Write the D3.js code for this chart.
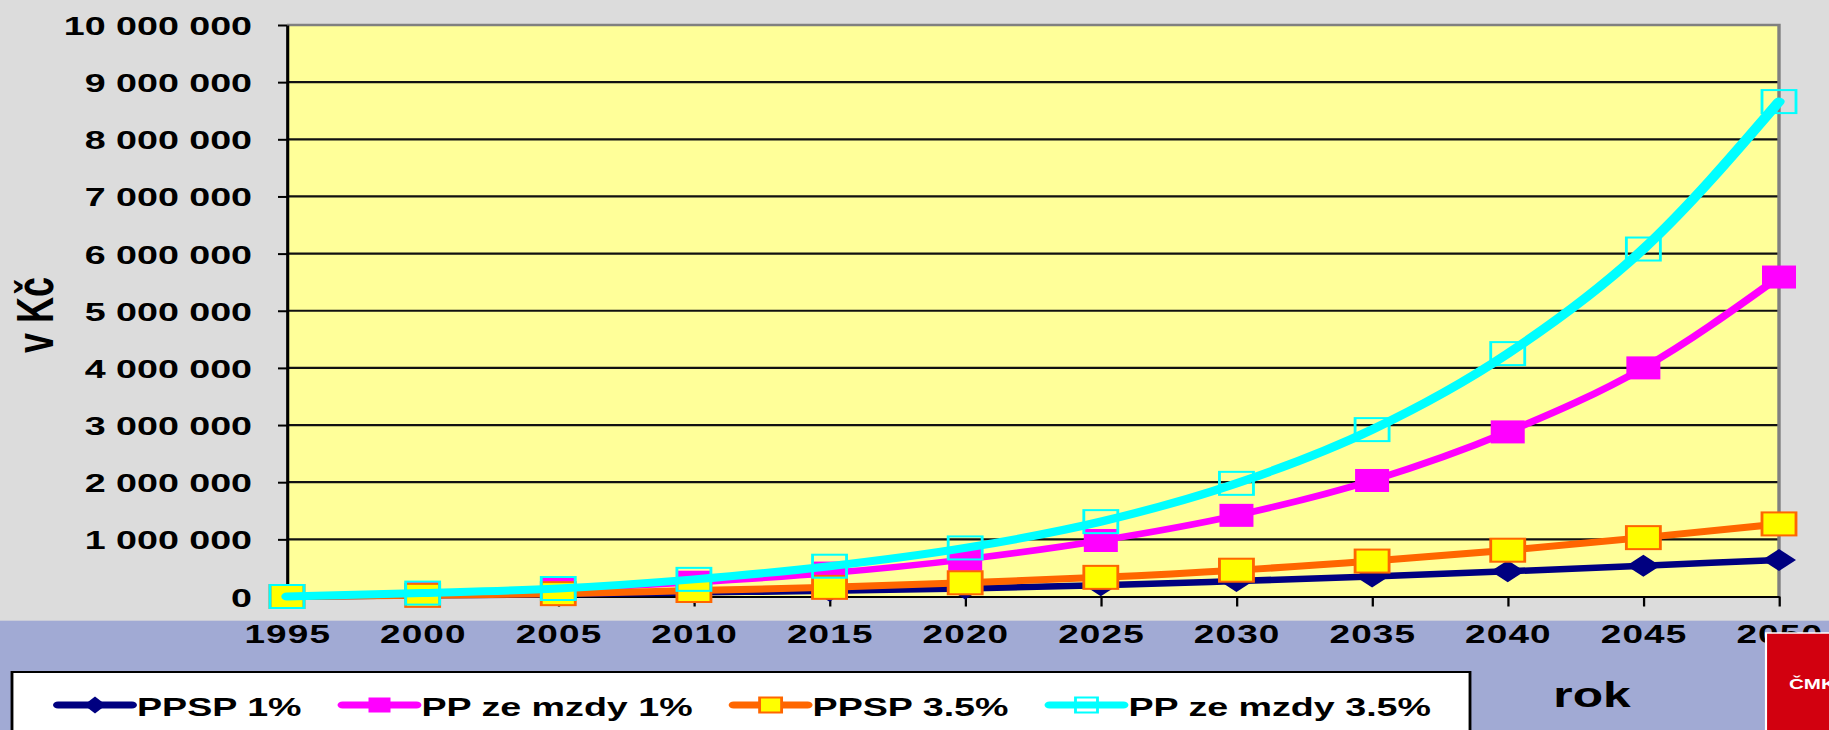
<!DOCTYPE html>
<html>
<head>
<meta charset="utf-8">
<script src="https://cdn.jsdelivr.net/npm/d3@7"></script>
<style>
  html, body { margin: 0; padding: 0; background: #dcdcdc; overflow: hidden; }
  svg { display: block; }
  text { font-family: "Liberation Sans", Arial, sans-serif; font-weight: bold; fill: #000; }
</style>
</head>
<body>
<script>
// ---- DATA ----
const years = [1995, 2000, 2005, 2010, 2015, 2020, 2025, 2030, 2035, 2040, 2045, 2050];
const ppsp1    = [0, 20000, 40000, 70000, 100000, 140000, 195000, 270000, 350000, 440000, 540000, 640000];
const ppMzdy1  = [0, 50000, 130000, 250000, 410000, 650000, 980000, 1420000, 2030000, 2880000, 4000000, 5590000];
const ppsp35   = [0, 20000, 50000, 105000, 160000, 240000, 335000, 460000, 620000, 810000, 1030000, 1270000];
const ppMzdy35 = [0, 60000, 140000, 300000, 530000, 850000, 1310000, 1980000, 2920000, 4250000, 6080000, 8660000];
const seriesNames = ["PPSP 1%", "PP ze mzdy 1%", "PPSP 3.5%", "PP ze mzdy 3.5%"];
const yTickValues = [0, 1000000, 2000000, 3000000, 4000000, 5000000, 6000000, 7000000, 8000000, 9000000, 10000000];
const yTickLabels = ["0", "1 000 000", "2 000 000", "3 000 000", "4 000 000", "5 000 000",
                     "6 000 000", "7 000 000", "8 000 000", "9 000 000", "10 000 000"];
const yTitle = "v Kč";
const xTitle = "rok";
const logoText = "ČMKOS";

// ---- LAYOUT (the picture is horizontally stretched) ----
const W = 1829, H = 730;
const s = 1.42;
const VW = W / s;
const X = v => v / s;

const plotL = X(287), plotR = X(1779), plotT = 25, plotB = 596.5;

const svg = d3.select("body").append("svg")
  .attr("width", W).attr("height", H)
  .attr("viewBox", `0 0 ${VW} ${H}`)
  .attr("preserveAspectRatio", "none");

// backgrounds
svg.append("rect").attr("x", 0).attr("y", 0).attr("width", VW).attr("height", 620.7).attr("fill", "#dcdcdc");
svg.append("rect").attr("x", 0).attr("y", 620.7).attr("width", VW).attr("height", H - 620.7).attr("fill", "#a1aad4");

// scales
const x = d3.scalePoint().domain(years).range([plotL, plotR]);
const y = d3.scaleLinear().domain([0, 10000000]).range([plotB, plotT]);

// plot area
svg.append("rect").attr("x", plotL).attr("y", plotT)
  .attr("width", plotR - plotL).attr("height", plotB - plotT)
  .attr("fill", "#ffff99");

// gridlines
svg.append("g").selectAll("line")
  .data(yTickValues.filter(v => v > 0 && v < 10000000))
  .join("line")
  .attr("x1", plotL).attr("x2", plotR)
  .attr("y1", d => y(d)).attr("y2", d => y(d))
  .attr("stroke", "#111").attr("stroke-width", 2.2);

// top/right border
svg.append("path")
  .attr("d", `M${plotL},${plotT}H${plotR}V${plotB}`)
  .attr("fill", "none").attr("stroke", "#808080").attr("stroke-width", 2.4);

// y axis
const yAxis = d3.axisLeft(y).tickValues(yTickValues)
  .tickFormat((d, i) => yTickLabels[i])
  .tickSize(X(9)).tickPadding(18.3).tickSizeOuter(0);
const gy = svg.append("g").attr("transform", `translate(${plotL},0)`).call(yAxis);
gy.select(".domain").attr("stroke", "#000").attr("stroke-width", 2.2);
gy.selectAll(".tick line").attr("stroke", "#000").attr("stroke-width", 2);
gy.selectAll(".tick text")
  .attr("font-size", 26.5).attr("font-family", "Liberation Sans, Arial, sans-serif")
  .attr("font-weight", "bold").attr("fill", "#000").attr("dy", "0.36em");

// x axis
const xAxis = d3.axisBottom(x).tickSize(10).tickPadding(18).tickSizeOuter(0);
const gx = svg.append("g").attr("transform", `translate(0,${plotB})`).call(xAxis);
gx.select(".domain").attr("stroke", "#000").attr("stroke-width", 2);
gx.selectAll(".tick line").attr("stroke", "#000").attr("stroke-width", 1.6);
gx.selectAll(".tick text")
  .attr("font-size", 26).attr("font-family", "Liberation Sans, Arial, sans-serif")
  .attr("font-weight", "bold").attr("fill", "#000").attr("letter-spacing", 0.8);

// series
const series = [
  { name: seriesNames[0], values: ppsp1,    color: "#000080", width: 6.5, marker: "diamond" },
  { name: seriesNames[1], values: ppMzdy1,  color: "#ff00ff", width: 6.5, marker: "square" },
  { name: seriesNames[2], values: ppsp35,   color: "#ff6600", width: 7,   marker: "yellowSquare" },
  { name: seriesNames[3], values: ppMzdy35, color: "#00ffff", width: 8,   marker: "hollowSquare" }
];

const line = d3.line()
  .x((d, i) => x(years[i]))
  .y(d => y(d))
  .curve(d3.curveMonotoneX);

function drawMarker(g, type, color, mw, mh) {
  if (type === "diamond") {
    g.append("path")
      .attr("d", `M0,${-mh / 2}L${mw / 2},0L0,${mh / 2}L${-mw / 2},0Z`)
      .attr("fill", color);
  } else if (type === "square") {
    g.append("rect").attr("x", -mw / 2).attr("y", -mh / 2).attr("width", mw).attr("height", mh)
      .attr("fill", color);
  } else if (type === "yellowSquare") {
    g.append("rect").attr("x", -mw / 2).attr("y", -mh / 2).attr("width", mw).attr("height", mh)
      .attr("fill", "#ffff00").attr("stroke", color).attr("stroke-width", 2);
  } else {
    g.append("rect").attr("x", -mw / 2).attr("y", -mh / 2).attr("width", mw).attr("height", mh)
      .attr("fill", "none").attr("stroke", color).attr("stroke-width", 2);
  }
}

series.forEach(sr => {
  const g = svg.append("g");
  g.append("path").attr("d", line(sr.values))
    .attr("fill", "none").attr("stroke", sr.color)
    .attr("stroke-width", sr.width).attr("stroke-linejoin", "round").attr("stroke-linecap", "round");
  sr.values.forEach((v, i) => {
    const mg = g.append("g").attr("transform", `translate(${x(years[i])},${y(v)})`);
    drawMarker(mg, sr.marker, sr.color, X(34), sr.marker === "diamond" ? 22 : 23);
  });
});

// y title
svg.append("text")
  .attr("transform", `translate(${X(53)},315) rotate(-90)`)
  .attr("text-anchor", "middle")
  .attr("font-size", 36)
  .text(yTitle);

// legend
const legL = X(12), legR = X(1470), legT = 672;
svg.append("rect").attr("x", legL).attr("y", legT)
  .attr("width", legR - legL).attr("height", 80)
  .attr("fill", "#fff").attr("stroke", "#000").attr("stroke-width", 2);

let cx = X(58);
const lineLen = X(74), legY = 705;
series.forEach(sr => {
  const g = svg.append("g");
  g.append("line").attr("x1", cx).attr("x2", cx + lineLen).attr("y1", legY).attr("y2", legY)
    .attr("stroke", sr.color).attr("stroke-width", 7).attr("stroke-linecap", "round");
  const mg = g.append("g").attr("transform", `translate(${cx + lineLen / 2},${legY})`);
  drawMarker(mg, sr.marker, sr.color, X(22), sr.marker === "diamond" ? 17 : 15);
  const t = g.append("text").attr("x", cx + lineLen + X(5)).attr("y", 716)
    .attr("font-size", 26.5).text(sr.name);
  const tw = t.node().getComputedTextLength();
  cx = cx + lineLen + X(5) + tw + X(41);
});

// x title
svg.append("text").attr("x", X(1592)).attr("y", 707)
  .attr("text-anchor", "middle").attr("font-size", 35).text(xTitle);

// logo box
svg.append("rect").attr("x", X(1766)).attr("y", 633)
  .attr("width", X(120)).attr("height", 120)
  .attr("fill", "#d2000f").attr("stroke", "#ffffff").attr("stroke-width", 1.5);
svg.append("text").attr("x", X(1789)).attr("y", 689)
  .attr("font-size", 14.5).attr("fill", "#fff").style("fill", "#fff")
  .text(logoText);
</script>
</body>
</html>
